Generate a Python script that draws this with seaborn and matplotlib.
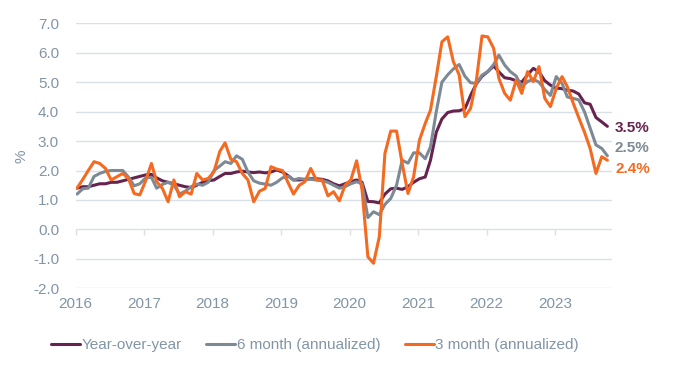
import numpy as np
import pandas as pd
import matplotlib
matplotlib.use("Agg")
import matplotlib.pyplot as plt
import matplotlib.dates as mdates
import seaborn as sns

# monthly values, Jan 2016 - Oct 2023
yoy = [1.40, 1.45, 1.45, 1.50, 1.55, 1.55, 1.60, 1.60, 1.65, 1.70, 1.75, 1.80,
       1.85, 1.87, 1.75, 1.65, 1.60, 1.55, 1.50, 1.45, 1.42, 1.50, 1.60, 1.65,
       1.68, 1.80, 1.90, 1.90, 1.95, 1.98, 1.95, 1.93, 1.95, 1.92, 1.95, 2.02,
       1.95, 1.82, 1.68, 1.68, 1.70, 1.72, 1.72, 1.70, 1.65, 1.55, 1.48, 1.55,
       1.62, 1.68, 1.60, 0.95, 0.94, 0.90, 1.20, 1.38, 1.40, 1.36, 1.45, 1.60,
       1.72, 1.78, 2.35, 3.30, 3.75, 3.97, 4.02, 4.03, 4.10, 4.55, 4.95, 5.20,
       5.36, 5.55, 5.35, 5.15, 5.12, 5.05, 5.00, 5.25, 5.47, 5.35, 5.05, 4.90,
       4.80, 4.78, 4.73, 4.70, 4.60, 4.30, 4.25, 3.80, 3.65, 3.50]

six_month = [1.20, 1.38, 1.40, 1.80, 1.90, 1.97, 2.00, 2.00, 2.00, 1.78, 1.48, 1.55,
             1.75, 1.77, 1.40, 1.53, 1.60, 1.50, 1.20, 1.30, 1.45, 1.54, 1.50, 1.60,
             2.00, 2.15, 2.30, 2.24, 2.50, 2.38, 1.95, 1.65, 1.57, 1.54, 1.50, 1.60,
             1.75, 1.80, 1.68, 1.73, 1.70, 1.70, 1.68, 1.65, 1.60, 1.50, 1.40, 1.45,
             1.55, 1.62, 1.55, 0.40, 0.60, 0.50, 0.85, 1.05, 1.50, 2.35, 2.25, 2.60,
             2.60, 2.40, 2.80, 4.00, 5.00, 5.25, 5.45, 5.60, 5.20, 4.98, 4.96, 5.24,
             5.36, 5.60, 5.92, 5.58, 5.36, 5.21, 4.85, 5.02, 5.10, 5.00, 4.75, 4.55,
             5.19, 4.96, 4.50, 4.45, 4.40, 3.99, 3.44, 2.87, 2.75, 2.50]

three_month = [1.40, 1.70, 2.00, 2.30, 2.24, 2.07, 1.68, 1.79, 1.90, 1.73, 1.22, 1.17,
               1.65, 2.24, 1.62, 1.39, 0.94, 1.68, 1.11, 1.28, 1.20, 1.90, 1.68, 1.73,
               1.96, 2.65, 2.94, 2.38, 2.30, 1.90, 1.68, 0.94, 1.30, 1.39, 2.13, 2.05,
               2.00, 1.58, 1.20, 1.50, 1.62, 2.07, 1.68, 1.68, 1.14, 1.28, 0.97, 1.50,
               1.68, 2.33, 1.34, -0.93, -1.15, -0.25, 2.58, 3.34, 3.34, 2.24, 1.22, 1.79,
               3.03, 3.60, 4.05, 5.19, 6.37, 6.54, 5.70, 5.25, 3.83, 4.11, 5.07, 6.57,
               6.54, 6.15, 5.13, 4.62, 4.39, 5.07, 4.62, 5.36, 5.02, 5.53, 4.45, 4.17,
               4.79, 5.19, 4.85, 4.30, 3.80, 3.30, 2.75, 1.90, 2.47, 2.35]

series_names = ["Year-over-year", "6 month (annualized)", "3 month (annualized)"]
colors = ["#66234F", "#7D8A96", "#F46A21"]
end_labels = ["3.5%", "2.5%", "2.4%"]

dates = pd.date_range("2016-01-01", periods=len(yoy), freq="MS") + pd.Timedelta(days=7)

sns.set_style("white")
plt.rcParams["font.family"] = ["Liberation Sans", "DejaVu Sans"]
plt.rcParams["axes.unicode_minus"] = False

txt = "#8295A6"
grid = "#D9E0E6"

fig, ax = plt.subplots(figsize=(6.92, 3.77), dpi=100)
fig.subplots_adjust(left=75.7 / 692, right=611.7 / 692, top=1 - 23.3 / 377, bottom=1 - 288.3 / 377)

for vals, name, c in zip([yoy, six_month, three_month], series_names, colors):
    sns.lineplot(x=dates, y=vals, ax=ax, color=c, linewidth=2.2, label=name)

# end labels
offsets = [(5, -1), (5, 5.5), (6, -6)]
for vals, lab, c, off in zip([yoy, six_month, three_month], end_labels, colors, offsets):
    ax.annotate(lab, xy=(dates[-1], vals[-1]), xytext=off, textcoords="offset points",
                color=c, fontsize=11, fontweight="bold", va="center", ha="left",
                annotation_clip=False)

ax.set_ylim(-2, 7)
ax.set_yticks(np.arange(-2, 8, 1))
ax.set_yticklabels([f"{v:.1f}" for v in np.arange(-2, 8, 1)])
ax.set_xlim(pd.Timestamp("2016-01-01"), pd.Timestamp("2023-10-31"))
ax.xaxis.set_major_locator(mdates.YearLocator())
ax.xaxis.set_major_formatter(mdates.DateFormatter("%Y"))
ax.yaxis.grid(True, color=grid, linewidth=1)
ax.xaxis.grid(False)
for s in ax.spines.values():
    s.set_visible(False)
ax.tick_params(axis="x", length=0, pad=6, labelsize=11, labelcolor=txt)
ax.tick_params(axis="y", length=0, pad=12, labelsize=11, labelcolor=txt)
ax.set_ylabel("%", color=txt, fontsize=11, labelpad=3)
ax.set_xlabel("")

# tick marks on the zero line
sec = ax.secondary_xaxis(2 / 9)
sec.xaxis.set_major_locator(mdates.YearLocator())
sec.tick_params(axis="x", direction="out", length=4, width=1, color=grid, labelbottom=False)
sec.spines["bottom"].set_visible(False)

handles, labels = ax.get_legend_handles_labels()
ax.get_legend().remove()
fig.legend(handles, labels, loc="center", bbox_to_anchor=(0.455, 0.085), ncol=3,
           frameon=False, fontsize=11, labelcolor=txt, handlelength=1.9,
           handletextpad=0.1, columnspacing=1.6)

plt.savefig("out.png", dpi=100)
